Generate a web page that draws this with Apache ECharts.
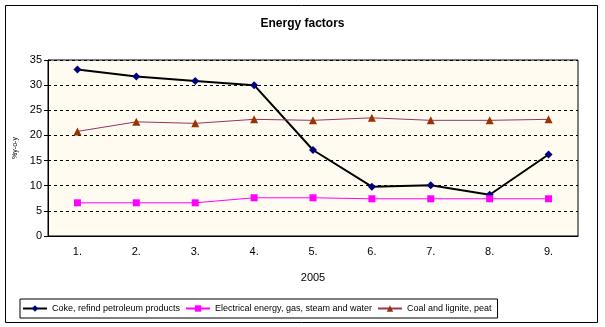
<!DOCTYPE html>
<html><head><meta charset="utf-8">
<script src="https://cdn.jsdelivr.net/npm/echarts@6/dist/echarts.min.js"></script>
<style>html,body{margin:0;padding:0;background:#fff}#c{width:605px;height:327px}</style>
</head><body><div id="c"></div>
<script>
const categories = ['1.','2.','3.','4.','5.','6.','7.','8.','9.'];
const coke = [33.1, 31.7, 30.8, 30.0, 17.1, 9.8, 10.1, 8.2, 16.2];
const electrical = [6.6, 6.6, 6.6, 7.6, 7.6, 7.4, 7.4, 7.4, 7.4];
const coal = [20.8, 22.7, 22.4, 23.2, 23.0, 23.5, 23.0, 23.0, 23.2];
const yTicks = {min: 0, max: 35, interval: 5};
const names = ['Coke, refind petroleum products','Electrical energy, gas, steam and water','Coal and lignite, peat'];

const chart = echarts.init(document.getElementById('c'), null, {renderer:'canvas'});
const font = 'Liberation Sans, Arial, sans-serif';
chart.setOption({
  animation: false,
  backgroundColor: '#fff',
  graphic: [{type:'rect', shape:{x:5.5,y:5.5,width:592,height:317}, style:{fill:'none',stroke:'#000',lineWidth:1}, z:-1}],
  title: {text:'Energy factors', left:'center', top:13, textStyle:{fontFamily:font,fontSize:12,fontWeight:'bold',color:'#000'}},
  grid: {left:48, right:27, top:60, bottom:91, show:true, backgroundColor:'#FFFBF0', borderColor:'#000', borderWidth:1},
  legend: {
    bottom: 9, left: 20, itemGap: 5, itemWidth: 24, itemHeight: 8,
    padding: [5,6,5,2],
    borderColor:'#000', borderWidth:1,
    textStyle:{fontFamily:font,fontSize:9,color:'#000'},
    data: names
  },
  xAxis: {
    type:'category', data: categories, boundaryGap:true,
    name:'2005', nameLocation:'middle', nameGap:36,
    nameTextStyle:{fontFamily:font,fontSize:11,color:'#000'},
    axisLine:{lineStyle:{color:'#000'}}, axisTick:{show:false},
    axisLabel:{fontFamily:font,fontSize:11,color:'#000',margin:10}
  },
  yAxis: {
    type:'value', min:yTicks.min, max:yTicks.max, interval:yTicks.interval,
    name:'%y-o-y', nameLocation:'middle', nameGap:28, nameRotate:90,
    nameTextStyle:{fontFamily:font,fontSize:7,color:'#000'},
    axisLine:{show:true,lineStyle:{color:'#000'}},
    axisTick:{show:true,length:4,lineStyle:{color:'#000'}},
    axisLabel:{fontFamily:font,fontSize:11,color:'#000',margin:6},
    splitLine:{show:true,lineStyle:{color:'#000',type:[3,3],width:1}}
  },
  series: [
    {name:names[0], type:'line', data:coke, symbol:'diamond', symbolSize:8,
     lineStyle:{color:'#000',width:2}, itemStyle:{color:'#000080'}},
    {name:names[1], type:'line', data:electrical, symbol:'rect', symbolSize:7,
     lineStyle:{color:'#FF00FF',width:1}, itemStyle:{color:'#FF00FF'}},
    {name:names[2], type:'line', data:coal, symbol:'triangle', symbolSize:8,
     lineStyle:{color:'#993366',width:1}, itemStyle:{color:'#993300'}}
  ]
});
</script></body></html>
